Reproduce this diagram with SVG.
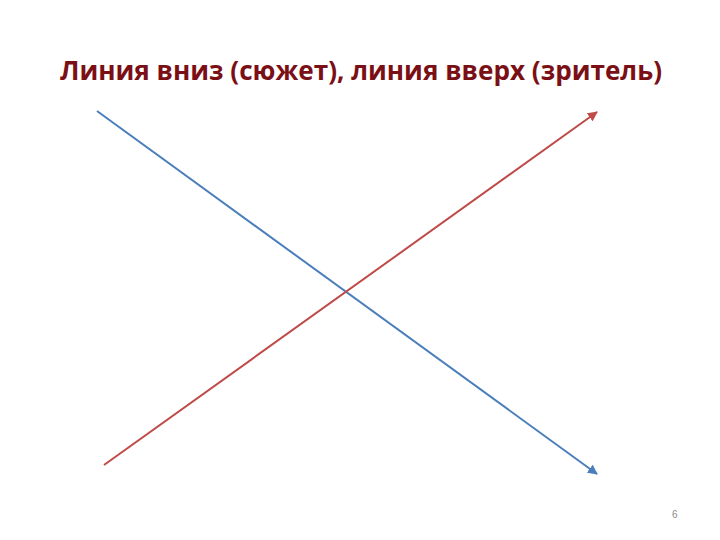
<svg xmlns="http://www.w3.org/2000/svg" width="720" height="540" viewBox="0 0 720 540">
<style>
.title{font-family:"Open Sans","Noto Sans","DejaVu Sans",sans-serif;font-weight:bold;font-size:26px;fill:#7a1016}
.num{font-family:"Liberation Sans",sans-serif;font-size:10px;fill:#8c8c8c}
.ln{stroke-width:2;fill:none}
</style>
<defs>
<marker id="ab" viewBox="0 0 10 10" refX="9" refY="5" markerWidth="5" markerHeight="5" orient="auto" markerUnits="strokeWidth"><path d="M0,0 L10,5 L0,10 z" fill="#4a7ebb"/></marker>
<marker id="ar" viewBox="0 0 10 10" refX="9" refY="5" markerWidth="5" markerHeight="5" orient="auto" markerUnits="strokeWidth"><path d="M0,0 L10,5 L0,10 z" fill="#be4b48"/></marker>
</defs>
<rect width="720" height="540" fill="#fff"/>
<g id="title"><text class="title" x="60" y="80" textLength="602" lengthAdjust="spacingAndGlyphs">Линия вниз (сюжет), линия вверх (зритель)</text></g>
<g id="connectors">
<line class="ln" x1="97" y1="111" x2="597" y2="474" stroke="#4a7ebb" marker-end="url(#ab)"/>
<line class="ln" x1="104" y1="465" x2="597" y2="112" stroke="#be4b48" marker-end="url(#ar)"/>
</g>
<g id="page"><text class="num" x="672" y="518">6</text></g>
</svg>
